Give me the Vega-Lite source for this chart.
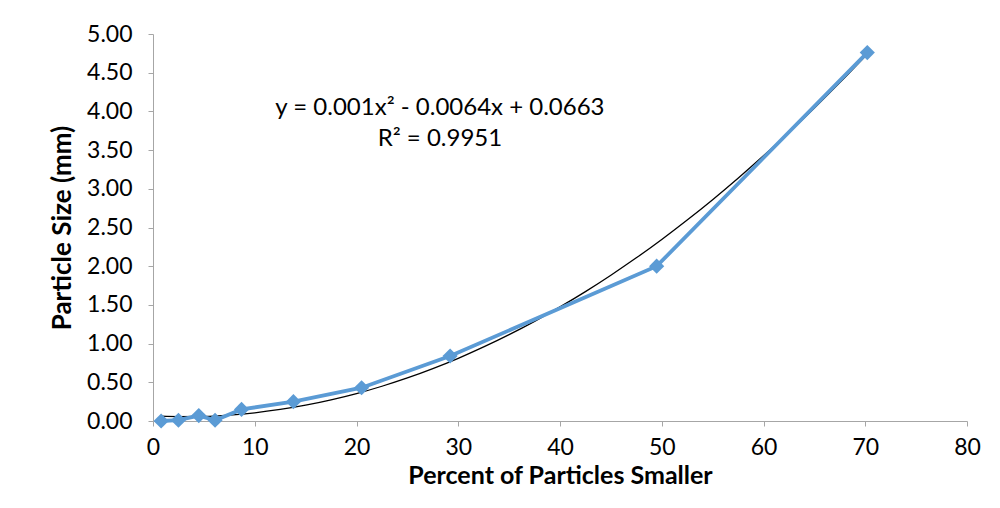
{
  "$schema": "https://vega.github.io/schema/vega-lite/v6.json",
  "autosize": {"type": "none"},
  "width": 814,
  "height": 387,
  "padding": {"left": 153, "top": 34, "right": 33, "bottom": 87},
  "background": "white",
  "config": {
    "view": {"stroke": null},
    "font": "Lato",
    "axis": {
      "grid": false,
      "domainColor": "#a6a6a6",
      "tickColor": "#a6a6a6",
      "tickSize": 5,
      "labelFont": "Lato",
      "labelFontSize": 23,
      "labelColor": "#000000",
      "labelOverlap": false,
      "titleFont": "Lato",
      "titleFontSize": 25,
      "titleFontWeight": "bold",
      "titleColor": "#000000"
    }
  },
  "datasets": {
    "points": [
      {"pct": 0.8, "size": 0.0},
      {"pct": 2.5, "size": 0.01},
      {"pct": 4.5, "size": 0.07},
      {"pct": 6.1, "size": 0.01},
      {"pct": 8.7, "size": 0.15},
      {"pct": 13.8, "size": 0.25},
      {"pct": 20.5, "size": 0.43},
      {"pct": 29.2, "size": 0.84},
      {"pct": 49.5, "size": 2.0},
      {"pct": 70.2, "size": 4.76}
    ],
    "trend": [
      {"pct": 0.8, "size": 0.062},
      {"pct": 2.5, "size": 0.057},
      {"pct": 5, "size": 0.06},
      {"pct": 7.5, "size": 0.077},
      {"pct": 10, "size": 0.106},
      {"pct": 12.5, "size": 0.149},
      {"pct": 15, "size": 0.204},
      {"pct": 17.5, "size": 0.273},
      {"pct": 20, "size": 0.354},
      {"pct": 22.5, "size": 0.449},
      {"pct": 25, "size": 0.556},
      {"pct": 27.5, "size": 0.677},
      {"pct": 30, "size": 0.81},
      {"pct": 32.5, "size": 0.957},
      {"pct": 35, "size": 1.116},
      {"pct": 37.5, "size": 1.288},
      {"pct": 40, "size": 1.474},
      {"pct": 42.5, "size": 1.672},
      {"pct": 45, "size": 1.884},
      {"pct": 47.5, "size": 2.108},
      {"pct": 50, "size": 2.346},
      {"pct": 52.5, "size": 2.597},
      {"pct": 55, "size": 2.86},
      {"pct": 57.5, "size": 3.137},
      {"pct": 60, "size": 3.426},
      {"pct": 62.5, "size": 3.729},
      {"pct": 65, "size": 4.044},
      {"pct": 67.5, "size": 4.372},
      {"pct": 70.2, "size": 4.742}
    ],
    "labels": [
      {"pct": 28.2, "size": 4.05, "text": "y = 0.001x² - 0.0064x + 0.0663"},
      {"pct": 28.2, "size": 3.64, "text": "R² = 0.9951"}
    ]
  },
  "encoding": {
    "x": {"field": "pct", "type": "quantitative", "scale": {"domain": [0, 80], "nice": false},
      "axis": {"values": [0,10,20,30,40,50,60,70,80], "labelPadding": 10, "title": "Percent of Particles Smaller", "titlePadding": 4, "labelFlush": false, "labelOverlap": false}},
    "y": {"field": "size", "type": "quantitative", "scale": {"domain": [0, 5], "nice": false},
      "axis": {"values": [0,0.5,1,1.5,2,2.5,3,3.5,4,4.5,5], "format": ".2f", "labelPadding": 16, "title": "Particle Size (mm)", "titlePadding": 11, "titleFontSize": 26, "labelOverlap": false, "labelFlush": false, "labelBound": false}}
  },
  "layer": [
    {
      "data": {"name": "trend"},
      "mark": {"type": "line", "color": "#000000", "strokeWidth": 1.3, "interpolate": "monotone"}
    },
    {
      "data": {"name": "points"},
      "mark": {"type": "line", "color": "#5b9bd5", "strokeWidth": 3.8, "point": {"shape": "diamond", "size": 230, "color": "#5b9bd5", "filled": true, "opacity": 1}}
    },
    {
      "data": {"name": "labels"},
      "mark": {"type": "text", "font": "Lato", "fontSize": 24, "color": "#000000", "align": "center", "baseline": "middle"},
      "encoding": {
        "text": {"field": "text"}
      }
    }
  ]
}
